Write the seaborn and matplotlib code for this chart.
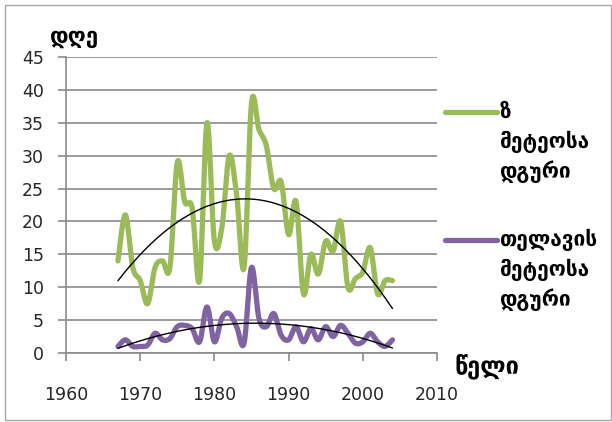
import numpy as np
import pandas as pd
import matplotlib
matplotlib.use("Agg")
import matplotlib.pyplot as plt
import seaborn as sns
from matplotlib.lines import Line2D
from matplotlib.patches import Rectangle

# Days per year at two weather stations
years = list(range(1967, 2005))
station_z = [14, 21, 13, 11, 7.5, 13, 14, 13, 29, 23,
             22, 11, 35, 17, 19, 30, 24, 13, 38, 34,
             31.5, 25, 26, 18, 23, 9, 15, 12, 17, 15.5,
             20, 10, 11.3, 12.3, 16, 9, 11, 11]
telavi = [1, 2, 1, 1, 1.2, 3, 2, 2.2, 4, 4.2,
          3.7, 1.7, 7, 1.7, 5.3, 6, 4, 1.5, 13, 5.3,
          4, 6, 2.7, 2, 4, 1.7, 3.7, 2, 4, 2.5,
          4.2, 3, 1.5, 1.7, 3, 1.7, 1, 2]

x_ticks = [1960, 1970, 1980, 1990, 2000, 2010]
y_ticks = [0, 5, 10, 15, 20, 25, 30, 35, 40, 45]
label_z = ["ზ", "მეტეოსა", "დგური"]
label_t = ["თელავის", "მეტეოსა", "დგური"]
y_title = "დღე"
x_title = "წელი"

GREEN = "#9BBB59"
PURPLE = "#8064A2"
GRID = "#8a8a8a"
TXT = "#262626"

W, H = 612, 422


def smooth(xv, yv, n=20):
    """Catmull-Rom curve through every data point."""
    p = np.column_stack([np.asarray(xv, float), np.asarray(yv, float)])
    p = np.vstack([p[0], p, p[-1]])
    out = []
    t = np.linspace(0, 1, n, endpoint=False)[:, None]
    for i in range(1, len(p) - 2):
        p0, p1, p2, p3 = p[i - 1], p[i], p[i + 1], p[i + 2]
        seg = 0.5 * ((2 * p1) + (-p0 + p2) * t +
                     (2 * p0 - 5 * p1 + 4 * p2 - p3) * t ** 2 +
                     (-p0 + 3 * p1 - 3 * p2 + p3) * t ** 3)
        out.append(seg)
    out.append(p[-2][None, :])
    c = np.vstack(out)
    return c[:, 0], c[:, 1]


sns.set_style("white")
plt.rcParams["font.family"] = ["DejaVu Sans"]

fig = plt.figure(figsize=(W / 100, H / 100), dpi=100)
ax = fig.add_axes([66 / W, 1 - 353 / H, (437 - 66) / W, (353 - 57) / H])

for vals, col in [(station_z, GREEN), (telavi, PURPLE)]:
    sx, sy = smooth(years, vals)
    df = pd.DataFrame({"year": sx, "days": sy})
    sns.lineplot(data=df, x="year", y="days", ax=ax, color=col,
                 linewidth=3.8, sort=False, estimator=None,
                 solid_capstyle="round", solid_joinstyle="round", zorder=3)

# second-order polynomial trend for each station
for vals in [station_z, telavi]:
    coef = np.polyfit(years, vals, 2)
    tx = np.linspace(years[0], years[-1], 200)
    tdf = pd.DataFrame({"year": tx, "days": np.polyval(coef, tx)})
    sns.lineplot(data=tdf, x="year", y="days", ax=ax, color="black",
                 linewidth=1.0, sort=False, estimator=None, zorder=4)

ax.set_xlim(1960, 2010)
ax.set_ylim(0, 45)
ax.set_xticks(x_ticks)
ax.set_yticks(y_ticks)
ax.set_xlabel("")
ax.set_ylabel("")
ax.yaxis.grid(True, color=GRID, linewidth=1.2)
ax.xaxis.grid(False)
ax.set_axisbelow(True)
for s in ["top", "right"]:
    ax.spines[s].set_visible(False)
for s in ["left", "bottom"]:
    ax.spines[s].set_color(GRID)
    ax.spines[s].set_linewidth(1.2)
ax.tick_params(axis="y", direction="out", length=6, width=1.2, color=GRID,
               labelsize=12.5, labelcolor=TXT, pad=10)
ax.tick_params(axis="x", direction="out", length=6, width=1.2, color=GRID,
               labelsize=12.5, labelcolor=TXT, pad=18)
ax.tick_params(left=True, bottom=True)

# axis titles
fig.text(50 / W, 1 - 38 / H, y_title, fontsize=16, fontweight="bold",
         ha="left", va="center", color="black")
fig.text(455 / W, 1 - 366 / H, x_title, fontsize=17, fontweight="bold",
         ha="left", va="center", color="black")

# legend entries
for col, lines, y0 in [(GREEN, label_z, 112), (PURPLE, label_t, 240)]:
    fig.add_artist(Line2D([445 / W, 497 / W], [1 - y0 / H, 1 - y0 / H],
                          color=col, linewidth=3.8, transform=fig.transFigure))
    for k, txt in enumerate(lines):
        fig.text(500 / W, 1 - (y0 + 30 * k) / H, txt, fontsize=15,
                 fontweight="bold", ha="left", va="center", color="black")

# chart border
fig.add_artist(Rectangle((5 / W, 1 - 420 / H), (611 - 5) / W, (420 - 5) / H,
                         transform=fig.transFigure, fill=False,
                         edgecolor="#a6a6a6", linewidth=1.0))

fig.savefig("out.png", dpi=100)
